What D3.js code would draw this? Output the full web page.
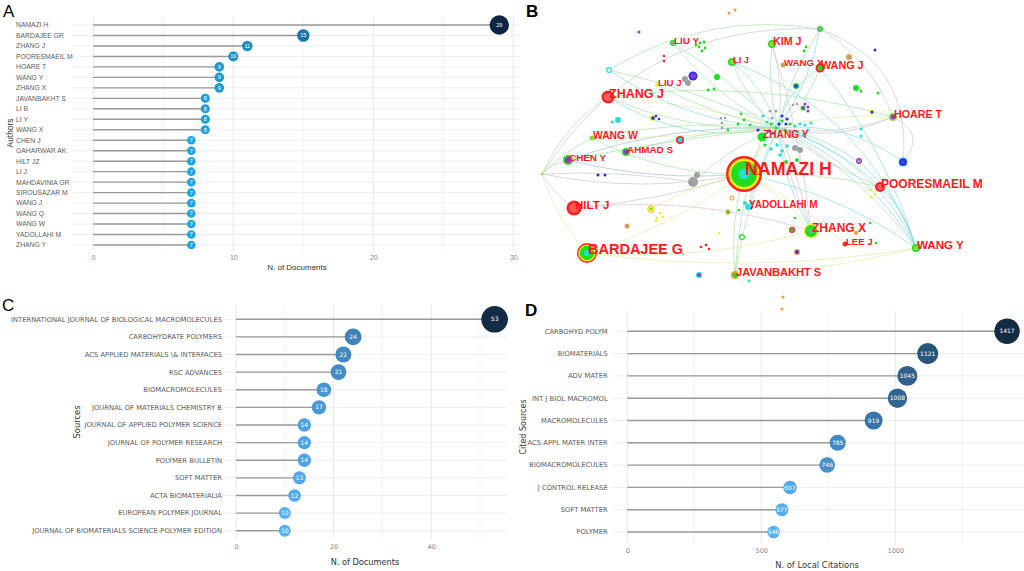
<!DOCTYPE html>
<html>
<head>
<meta charset="utf-8">
<script src="https://cdn.jsdelivr.net/npm/d3@7/dist/d3.min.js"></script>
<style>
  body { margin: 0; background: #fff; }
  svg { display: block; }
</style>
</head>
<body>
<svg id="fig" width="1024" height="571"></svg>
<script>
// ---------- data ----------
const authorNames = ["NAMAZI H", "BARDAJEE GR", "ZHANG J", "POORESMAEIL M", "HOARE T", "WANG Y", "ZHANG X",
  "JAVANBAKHT S", "LI B", "LI Y", "WANG X", "CHEN J", "GAHARWAR AK", "HILT JZ", "LI J", "MAHDAVINIA GR",
  "SIROUSAZAR M", "WANG J", "WANG Q", "WANG W", "YADOLLAHI M", "ZHANG Y"];
const authorDocs = [29, 15, 11, 10, 9, 9, 9, 8, 8, 8, 8, 7, 7, 7, 7, 7, 7, 7, 7, 7, 7, 7];
const authorTicks = [0, 10, 20, 30];

const sourceNames = ["INTERNATIONAL JOURNAL OF BIOLOGICAL MACROMOLECULES", "CARBOHYDRATE POLYMERS",
  "ACS APPLIED MATERIALS \\& INTERFACES", "RSC ADVANCES", "BIOMACROMOLECULES", "JOURNAL OF MATERIALS CHEMISTRY B",
  "JOURNAL OF APPLIED POLYMER SCIENCE", "JOURNAL OF POLYMER RESEARCH", "POLYMER BULLETIN", "SOFT MATTER",
  "ACTA BIOMATERIALIA", "EUROPEAN POLYMER JOURNAL", "JOURNAL OF BIOMATERIALS SCIENCE-POLYMER EDITION"];
const sourceDocs = [53, 24, 22, 21, 18, 17, 14, 14, 14, 13, 12, 10, 10];
const sourceTicks = [0, 20, 40];

const citedNames = ["CARBOHYD POLYM", "BIOMATERIALS", "ADV MATER", "INT J BIOL MACROMOL", "MACROMOLECULES",
  "ACS APPL MATER INTER", "BIOMACROMOLECULES", "J CONTROL RELEASE", "SOFT MATTER", "POLYMER"];
const citedCounts = [1417, 1121, 1045, 1008, 919, 785, 746, 607, 577, 546];
const citedTicks = [0, 500, 1000];

// co-authorship network (B): label, layout x, layout y, node weight, cluster rings, label weight
const networkAuthors = [
  ["NAMAZI H", 224, 174, 18, "rygc", 17.8],
  ["BARDAJEE G", 67, 253, 10, "rygc", 14.5],
  ["ZHANG J", 88, 97, 6.5, "rR", 12.5],
  ["HILT J", 54, 208, 7.5, "rR", 11.5],
  ["POORESMAEIL M", 360, 187, 5, "rR", 12],
  ["ZHANG X", 291, 231, 7, "yga", 12],
  ["WANG Y", 396, 248, 4, "gl", 11.6],
  ["JAVANBAKHT S", 215, 275, 4, "og", 11.1],
  ["HOARE T", 373, 117, 4, "lp", 10.7],
  ["WANG J", 300, 68, 4.5, "rg", 10.8],
  ["WANG X", 263, 65, 2.5, "oa", 9.7],
  ["KIM J", 252, 44, 4, "gl", 10.7],
  ["LI J", 212, 62, 4, "gl", 9.3],
  ["LIU Y", 153, 43, 3, "ga", 9.9],
  ["LIU J", 137, 85, 2, "y", 9.7],
  ["WANG W", 72, 138, 2.5, "l", 10.3],
  ["AHMAD S", 106, 152, 4, "gp", 9.9],
  ["CHEN Y", 48, 160, 5, "gp", 9.9],
  ["ZHANG Y", 242, 137, 4.5, "g", 10.2],
  ["YADOLLAHI M", 228, 207, 3, "c", 10],
  ["LEE J", 325, 244, 2.5, "r", 9.6]
];

// unlabelled authors: x, y, weight, rings
const networkDots = [
  [209, 13, 1.5, "o"], [215, 10, 1.5, "o"], [119, 32, 1.5, "p"], [144, 56, 1.3, "r"], [144, 61, 1.3, "r"],
  [89, 70, 3, "cw"], [173, 76, 4.5, "bp"], [165, 79, 3, "a"], [168, 83, 3, "a"],
  [180, 43, 1.4, "g"], [184, 42, 1.4, "g"], [179, 47, 1.4, "g"], [185, 48, 1.4, "g"], [182, 51, 1.4, "g"], [176, 45, 1.4, "g"],
  [197, 77, 3, "g"], [188, 90, 1.4, "g"], [194, 89, 1.4, "g"],
  [98, 120, 3, "c"], [92, 122, 1.5, "c"], [133, 118, 3, "yb"], [136, 116, 1.3, "b"], [139, 119, 1.3, "b"],
  [160, 140, 4, "rc"],
  [201, 118, 1.3, "a"], [205, 118, 1.3, "a"], [202, 123, 1.3, "a"], [202, 128, 1.3, "a"],
  [221, 114, 1.4, "g"], [224, 120, 1.4, "g"], [230, 125, 1.4, "g"], [218, 124, 1.4, "g"], [208, 130, 1.4, "g"],
  [300, 29, 3, "ga"], [286, 47, 1.4, "g"], [284, 51, 1.4, "g"], [329, 57, 3, "oa"], [355, 50, 1.5, "b"],
  [276, 86, 3, "gb"], [336, 88, 3, "g"], [341, 91, 1.5, "g"], [358, 93, 1.5, "g"],
  [352, 112, 2.5, "yb"], [341, 129, 1.5, "c"], [341, 136, 1.5, "c"],
  [283, 108, 2.5, "gp"], [288, 111, 1.5, "p"], [273, 105, 1.3, "a"], [277, 104, 1.3, "a"],
  [339, 161, 3, "pa"], [383, 162, 4.5, "cbp"],
  [350, 190, 1.3, "y"], [355, 194, 1.3, "y"], [351, 197, 1.3, "y"],
  [275, 218, 1.3, "g"], [350, 223, 1.3, "g"], [356, 243, 1.3, "g"],
  [272, 230, 3, "rg"], [336, 233, 2, "o"], [277, 252, 3, "ob"], [263, 297, 1.5, "o"], [262, 309, 1.5, "o"],
  [78, 175, 1.5, "b"], [85, 175, 1.5, "b"], [173, 182, 5, "a"], [177, 175, 3, "a"],
  [131, 209, 3.5, "oyg"], [140, 213, 1.3, "y"], [143, 217, 1.3, "y"], [137, 218, 1.3, "y"], [136, 221, 1.3, "y"],
  [107, 226, 2.5, "oa"], [212, 198, 2.5, "ow"], [208, 212, 2.5, "og"], [219, 210, 1.3, "g"],
  [225, 203, 2, "c"], [232, 203, 2, "c"], [231, 208, 1.5, "b"], [199, 233, 1.3, "y"], [222, 237, 3, "gw"],
  [181, 247, 1.3, "r"], [186, 245, 1.3, "r"], [189, 249, 1.3, "r"], [179, 275, 3, "cp"], [229, 281, 1.5, "c"],
  [163, 254, 1, "a"], [22, 174, 1.2, "l"],
  [243, 116, 1.6, "c"], [247, 122, 1.6, "c"], [250, 111, 1.5, "a"], [256, 111, 1.5, "a"], [252, 118, 1.5, "a"],
  [262, 116, 1.6, "b"], [267, 119, 1.6, "b"], [266, 124, 1.6, "b"], [259, 124, 1.6, "b"],
  [251, 124, 1.6, "g"], [256, 128, 1.6, "g"], [262, 121, 1.6, "g"], [265, 130, 1.6, "g"], [270, 124, 1.6, "g"],
  [253, 133, 1.5, "p"], [238, 130, 1.6, "b"], [244, 134, 1.6, "b"], [249, 131, 1.6, "b"], [245, 145, 1.6, "g"],
  [275, 126, 1.6, "c"], [280, 124, 1.6, "c"], [285, 125, 1.6, "c"], [291, 123, 1.6, "c"], [278, 132, 1.6, "c"],
  [283, 135, 1.6, "c"], [288, 130, 1.6, "c"], [257, 145, 1.8, "c"], [262, 151, 1.8, "c"], [267, 146, 1.8, "c"],
  [251, 149, 1.8, "c"], [260, 155, 1.8, "c"], [275, 148, 3, "a"], [280, 150, 3, "a"],
  [277, 160, 2, "g"], [266, 162, 2, "g"], [288, 107, 1.5, "p"], [285, 104, 1.5, "p"], [265, 133, 1.4, "y"]
];

// extra link anchors of the network
const networkHubs = [["hub", 258, 128], ["left", 22, 174], ["top", 300, 29], ["blue", 383, 162], ["cyanTL", 89, 70],
  ["grayL", 173, 182], ["ringL", 131, 209]];

// links: from, to, bend, colour key
const networkLinks = [
  ["hub", "NAMAZI H", 5, "g"], ["hub", "LI J", -10, "g"], ["hub", "LI J", 12, "c"], ["hub", "KIM J", 10, "a"],
  ["hub", "KIM J", -8, "g"], ["hub", "LIU Y", -15, "g"], ["hub", "LIU Y", 8, "c"],
  ["hub", "ZHANG J", -20, "g"], ["hub", "ZHANG J", -35, "c"], ["hub", "ZHANG J", 10, "y"], ["hub", "WANG J", 10, "g"],
  ["hub", "WANG J", -15, "c"], ["hub", "HOARE T", 15, "a"],
  ["hub", "HOARE T", -10, "y"], ["hub", "POORESMAEIL M", -15, "c"], ["hub", "POORESMAEIL M", 8, "g"],
  ["hub", "WANG Y", -30, "c"], ["hub", "WANG Y", -42, "c"], ["hub", "WANG Y", -20, "g"], ["hub", "WANG Y", -55, "c"],
  ["hub", "ZHANG X", 5, "a"], ["hub", "ZHANG X", -5, "a"], ["hub", "ZHANG X", 12, "c"],
  ["hub", "CHEN Y", 20, "b"], ["hub", "CHEN Y", 5, "g"], ["hub", "AHMAD S", 10, "g"], ["hub", "WANG W", 15, "g"],
  ["hub", "WANG W", -5, "y"], ["hub", "LIU J", -10, "g"], ["hub", "cyanTL", 10, "g"],
  ["hub", "top", -10, "g"], ["hub", "top", 12, "c"], ["hub", "blue", -25, "c"], ["hub", "cyanTL", -25, "c"],
  ["hub", "JAVANBAKHT S", 10, "g"], ["hub", "YADOLLAHI M", 5, "c"], ["hub", "grayL", 10, "a"],
  ["NAMAZI H", "WANG Y", -20, "c"], ["NAMAZI H", "POORESMAEIL M", -10, "g"], ["NAMAZI H", "ZHANG X", -10, "y"],
  ["NAMAZI H", "JAVANBAKHT S", 10, "g"], ["NAMAZI H", "BARDAJEE G", -15, "y"], ["NAMAZI H", "HILT J", -10, "a"],
  ["NAMAZI H", "CHEN Y", -15, "b"], ["NAMAZI H", "left", -20, "a"], ["NAMAZI H", "LEE J", -10, "y"],
  ["NAMAZI H", "ringL", 8, "y"], ["NAMAZI H", "WANG W", -20, "g"],
  ["left", "CHEN Y", -5, "g"], ["left", "BARDAJEE G", 10, "y"], ["left", "HILT J", 5, "a"], ["left", "ZHANG J", -15, "g"],
  ["left", "WANG W", -5, "g"], ["left", "grayL", -8, "a"],
  ["left", "top", -90, "a"], ["cyanTL", "top", -40, "g"], ["top", "HOARE T", -20, "g"], ["top", "blue", -60, "a"],
  ["WANG J", "WANG Y", -20, "c"], ["LI J", "WANG Y", -60, "c"], ["KIM J", "ZHANG X", -10, "a"],
  ["HILT J", "ZHANG X", -25, "p"], ["BARDAJEE G", "WANG Y", 25, "y"], ["JAVANBAKHT S", "WANG Y", 10, "y"],
  ["HOARE T", "hub", -20, "a"], ["ZHANG J", "HOARE T", -30, "g"], ["POORESMAEIL M", "WANG Y", -10, "c"],
  ["HOARE T", "blue", -30, "a"], ["JAVANBAKHT S", "ZHANG Y", -10, "g"], ["BARDAJEE G", "ZHANG X", 20, "y"]
];

// ---------- drawing ----------
const svg = d3.select("#fig");
const sansA = "'Liberation Sans', Arial, sans-serif";
const sansV = "'DejaVu Sans', Verdana, sans-serif";

function lollipop(o) {
  const g = svg.append("g");
  const rows = o.names.map((n, i) => ({ name: n, value: o.values[i] }));
  const x = d3.scaleLinear().domain(o.domain).range(o.xRange);
  const y = d3.scalePoint().domain(o.names).range(o.yRange);
  const ext = d3.extent(o.values);
  const r = d3.scaleLinear().domain(ext).range(o.rRange);
  const color = d3.scaleLinear().domain(ext).range(o.colors).interpolate(d3.interpolateLab);
  const step = o.ticks[1] - o.ticks[0];
  const grid = d3.range(o.domain[0], o.domain[1] + 1e-9, step / 2);

  g.selectAll("line.v").data(grid).join("line").attr("class", "v")
    .attr("x1", d => x(d)).attr("x2", d => x(d))
    .attr("y1", o.gridY[0]).attr("y2", o.gridY[1])
    .attr("stroke", d => o.ticks.includes(d) ? "#e4e4e4" : "#f2f2f2").attr("stroke-width", 0.9);
  g.selectAll("line.h").data(rows).join("line").attr("class", "h")
    .attr("x1", o.gridX[0]).attr("x2", o.gridX[1])
    .attr("y1", d => y(d.name)).attr("y2", d => y(d.name))
    .attr("stroke", "#ececec").attr("stroke-width", 0.9);
  g.selectAll("line.seg").data(rows).join("line").attr("class", "seg")
    .attr("x1", x(0)).attr("x2", d => x(d.value))
    .attr("y1", d => y(d.name)).attr("y2", d => y(d.name))
    .attr("stroke", "#999").attr("stroke-width", 1.4);
  g.selectAll("circle").data(rows).join("circle")
    .attr("cx", d => x(d.value)).attr("cy", d => y(d.name))
    .attr("r", d => r(d.value)).attr("fill", d => color(d.value));
  g.selectAll("text.val").data(rows).join("text").attr("class", "val")
    .attr("x", d => x(d.value)).attr("y", d => y(d.name)).attr("dy", "0.35em")
    .attr("text-anchor", "middle").attr("fill", "#fff")
    .style("font-family", o.font).style("font-size", o.valSize + "px")
    .text(d => d.value);
  g.selectAll("text.name").data(rows).join("text").attr("class", "name")
    .attr("x", o.labelX).attr("y", d => y(d.name)).attr("dy", "0.35em")
    .attr("text-anchor", o.labelAnchor).attr("fill", "#5c5c5c")
    .style("font-family", o.font).style("font-size", o.labelSize + "px")
    .text(d => d.name);

  const ax = g.append("g")
    .attr("transform", `translate(0,${o.tickY - o.tickSize * 0.36})`)
    .call(d3.axisBottom(x).tickValues(o.ticks).tickFormat(d3.format("d")).tickSize(0).tickPadding(0));
  ax.select(".domain").remove();
  ax.selectAll("text").attr("fill", "#888").style("font-family", o.font).style("font-size", o.tickSize + "px");

  g.append("text").attr("x", o.titleX).attr("y", o.titleY).attr("text-anchor", "middle")
    .attr("fill", "#333").style("font-family", o.font).style("font-size", o.titleSize + "px").text(o.title);
  g.append("text").attr("transform", `translate(${o.yTitleX},${o.yTitleY}) rotate(-90)`)
    .attr("text-anchor", "middle").attr("dy", "0.35em")
    .attr("fill", "#333").style("font-family", o.font).style("font-size", o.yTitleSize + "px").text(o.yTitle);
}

// A: authors
lollipop({
  names: authorNames, values: authorDocs, domain: [0, 30], ticks: authorTicks,
  xRange: [93.3, 513.3], yRange: [25, 245], gridX: [72, 520], gridY: [17, 251],
  rRange: [4.3, 9.7], colors: ["#1aa6e3", "#0c2645"], font: sansA, valSize: 5.5,
  labelX: 16, labelAnchor: "start", labelSize: 6.8, tickY: 258, tickSize: 7,
  title: "N. of Documents", titleX: 297, titleY: 270, titleSize: 8,
  yTitle: "Authors", yTitleX: 10, yTitleY: 133, yTitleSize: 8.4
});

// C: sources
lollipop({
  names: sourceNames, values: sourceDocs, domain: [0, 55], ticks: sourceTicks,
  xRange: [236, 504.4], yRange: [319.3, 530.7], gridX: [224, 507], gridY: [305, 539],
  rRange: [6, 13.3], colors: ["#56B1F7", "#132B43"], font: sansV, valSize: 6,
  labelX: 222, labelAnchor: "end", labelSize: 6.8, tickY: 547, tickSize: 6.5,
  title: "N. of Documents", titleX: 365, titleY: 565, titleSize: 8.2,
  yTitle: "Sources", yTitleX: 77, yTitleY: 422, yTitleSize: 8.4
});

// D: cited sources
lollipop({
  names: citedNames, values: citedCounts, domain: [0, 1500], ticks: citedTicks,
  xRange: [627.3, 1029.3], yRange: [331.3, 532], gridX: [612, 1024], gridY: [311, 543],
  rRange: [6.3, 12.7], colors: ["#56B1F7", "#132B43"], font: sansV, valSize: 6,
  labelX: 607.7, labelAnchor: "end", labelSize: 6.8, tickY: 551, tickSize: 6.5,
  title: "N. of Local Citations", titleX: 817, titleY: 568, titleSize: 8.4,
  yTitle: "Cited Sources", yTitleX: 523, yTitleY: 427, yTitleSize: 8
});

// B: network
const ringColor = {
  r: "#ff2222", R: "#ff5a5a", y: "#f2f21a", g: "#22dd22", l: "#88dd33", c: "#22e0e0", o: "#ff9a33",
  p: "#9933cc", b: "#2233ee", a: "#a0a0a0", w: "#e8fff8"
};
const linkColor = { g: "#9fe09f", c: "#7fd8dc", a: "#c4c4c4", y: "#dcec9c", p: "#e6b4c6", b: "#9bb6dc" };
const bx = d3.scaleLinear().domain([0, 504]).range([520, 1024]);
const by = d3.scaleLinear().domain([0, 300]).range([0, 300]);
const nb = svg.append("g");

const anchor = new Map();
networkHubs.forEach(h => anchor.set(h[0], [h[1], h[2]]));
networkAuthors.forEach(a => anchor.set(a[0], [a[1], a[2]]));

nb.append("g").selectAll("path").data(networkLinks).join("path")
  .attr("d", l => {
    const [x1, y1] = anchor.get(l[0]).map((v, i) => i ? by(v) : bx(v));
    const [x2, y2] = anchor.get(l[1]).map((v, i) => i ? by(v) : bx(v));
    const dx = x2 - x1, dy = y2 - y1, len = Math.hypot(dx, dy) || 1;
    const cx = (x1 + x2) / 2 - dy / len * l[2], cy = (y1 + y2) / 2 + dx / len * l[2];
    return `M${x1},${y1}Q${cx},${cy} ${x2},${y2}`;
  })
  .attr("fill", "none").attr("stroke", l => linkColor[l[3]])
  .attr("stroke-width", 0.9).attr("stroke-opacity", 0.7);

// concentric cluster rings: thin outer bands, larger inner core
function ringRadius(r, i, k) {
  if (i === 0) return r;
  if (k === 2) return r * 0.62;
  if (i === k - 1) return r * 0.3;
  return r * (1 - i * 0.14);
}
function drawNode(sel, x, y, r, rings) {
  const k = rings.length;
  rings.split("").forEach((c, i) => {
    sel.append("circle").attr("cx", bx(x)).attr("cy", by(y))
      .attr("r", ringRadius(r, i, k)).attr("fill", ringColor[c]);
  });
}
const dotLayer = nb.append("g");
networkDots.forEach(d => drawNode(dotLayer, d[0], d[1], d[2], d[3]));
const nodeLayer = nb.append("g");
networkAuthors.forEach(a => drawNode(nodeLayer, a[1], a[2], a[3], a[4]));

nb.append("g").selectAll("text").data(networkAuthors).join("text")
  .attr("x", a => bx(a[1]) + 1).attr("y", a => by(a[2]) + 1)
  .attr("fill", "#ff1a1a").style("font-family", sansA).style("font-weight", "bold")
  .style("font-size", a => a[5] + "px")
  .text(a => a[0]);

// panel letters
const letters = [["A", 3, 17, "normal"], ["B", 526, 17, "bold"], ["C", 2, 311, "normal"], ["D", 525, 316, "bold"]];
svg.append("g").selectAll("text").data(letters).join("text")
  .attr("x", d => d[1]).attr("y", d => d[2]).attr("fill", "#000")
  .style("font-family", sansA).style("font-size", "17px").style("font-weight", d => d[3])
  .text(d => d[0]);
</script>
</body>
</html>
